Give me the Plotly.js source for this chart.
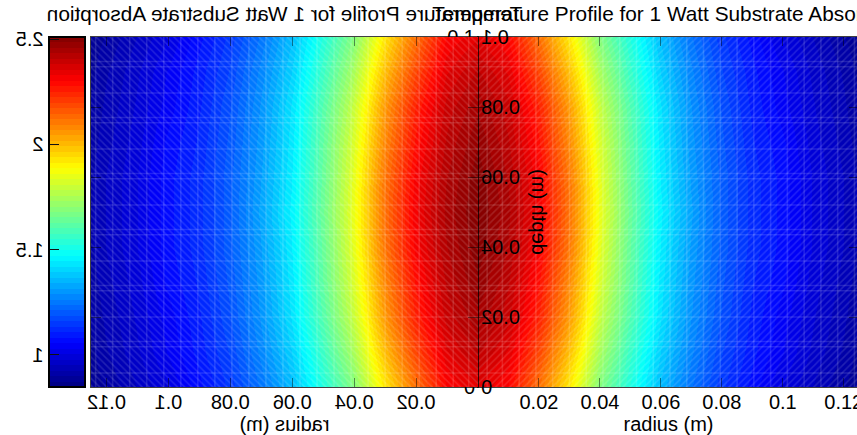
<!DOCTYPE html>
<html>
<head>
<meta charset="utf-8">
<script src="https://cdn.plot.ly/plotly-3.0.1.min.js"></script>
<style>
html,body{margin:0;padding:0;width:857px;height:435px;overflow:hidden;background:#fff}
#rightFig,#leftFig{position:absolute;left:0;top:0;height:435px}
#rightFig{width:900px}
#leftFig{width:857px;transform:scaleX(-1);transform-origin:center center}
</style>
</head>
<body>
<div id="rightFig"></div>
<div id="leftFig"></div>
<script>
const radius = [0,0.01,0.02,0.03,0.04,0.05,0.06,0.07,0.08,0.09,0.10,0.11,0.12,0.125];
const depth = [0,0.01,0.02,0.03,0.04,0.05,0.06,0.07,0.08,0.09,0.10];
const d00 = [2.35,2.30,2.12,1.92,1.68,1.52,1.36,1.24,1.14,1.07,1.00,0.95,0.90,0.88];
const d01 = [2.41,2.35,2.19,1.99,1.74,1.56,1.39,1.27,1.16,1.09,1.03,0.97,0.92,0.89];
const d02 = [2.45,2.39,2.25,2.05,1.79,1.60,1.42,1.29,1.18,1.10,1.04,0.98,0.93,0.90];
const d03 = [2.48,2.41,2.28,2.08,1.82,1.62,1.43,1.30,1.19,1.11,1.06,0.99,0.94,0.91];
const d04 = [2.50,2.43,2.31,2.11,1.84,1.63,1.44,1.31,1.20,1.12,1.07,1.00,0.95,0.92];
const d05 = [2.51,2.44,2.32,2.12,1.85,1.64,1.45,1.32,1.20,1.12,1.07,1.00,0.95,0.92];
const temperature = [d00,d01,d02,d03,d04,d05,d04,d03,d02,d01,d00];
const meshRadius = [0.003,0.008,0.0135,0.019,0.0245,0.03,0.0355,0.041,0.0465,0.052,0.0575,0.063,0.0685,0.074,0.0795,0.085,0.0905,0.096,0.1015,0.107,0.1125,0.118,0.1235];
const meshDepth = [0.004,0.0115,0.013,0.02,0.0275,0.029,0.036,0.0435,0.045,0.052,0.0595,0.061,0.068,0.0755,0.077,0.084,0.0915,0.093];
const xTicks = [0.02,0.04,0.06,0.08,0.1,0.12];
const xLabels = ['0.02','0.04','0.06','0.08','0.1','0.12'];
const yTicks = [0,0.02,0.04,0.06,0.08,0.1];
const yLabels = ['0','0.02','0.04','0.06','0.08','0.1'];
const barTicks = [1,1.5,2,2.5];
const barLabels = ['1','1.5','2','2.5'];
const titleText = 'Temperature Profile for 1 Watt Substrate Absorption';
const FONT = 'Liberation Sans, Arial, sans-serif';
const SIZE = 20;
const TITLE_SIZE = 20.8;
const cmin = 0.847, cmax = 2.51;

function jet(t){
  const c = v => Math.round(255*Math.max(0,Math.min(1,v)));
  return 'rgb('+c(1.5-Math.abs(4*t-3))+','+c(1.5-Math.abs(4*t-2))+','+c(1.5-Math.abs(4*t-1))+')';
}
const jet64 = [];
for(let i=0;i<64;i++){
  const col = jet((i+0.5)/64);
  jet64.push([i/64,col]); jet64.push([(i+1)/64,col]);
}
function meshTrace(){
  const xs=[],ys=[];
  meshRadius.forEach(r=>{xs.push(r,r,null);ys.push(0,0.1,null);});
  meshDepth.forEach(d=>{xs.push(0,0.125,null);ys.push(d,d,null);});
  return {type:'scatter',mode:'lines',x:xs,y:ys,hoverinfo:'skip',showlegend:false,
    line:{color:'rgba(255,255,255,0.13)',width:1.6}};
}
function hatchTrace(){
  return {type:'bar',x:[0.0625],y:[0.1],width:[0.125],hoverinfo:'skip',showlegend:false,
    marker:{color:'rgba(0,0,0,0)',line:{width:0},
      pattern:{shape:'/',size:5,solidity:0.3,fgcolor:'rgba(255,255,255,0.26)',bgcolor:'rgba(0,0,0,0)',fillmode:'overlay'}}};
}
function figure(withBar){
  const heat = {type:'heatmap',x:radius,y:depth,z:temperature,zmin:cmin,zmax:cmax,
    zsmooth:'best',colorscale:jet64,showscale:withBar,hoverinfo:'skip'};
  if(withBar){
    heat.colorbar = {xref:'container',x:772/857,xanchor:'left',yref:'paper',y:0,yanchor:'bottom',
      thickness:36,thicknessmode:'pixels',len:1,lenmode:'fraction',xpad:0,ypad:0,
      outlinecolor:'#000',outlinewidth:2,tickmode:'array',tickvals:barTicks,ticktext:barLabels,
      ticks:'inside',ticklen:10,tickcolor:'#111',tickwidth:1,
      tickfont:{family:FONT,size:SIZE,color:'#000'}};
  }
  return [heat,hatchTrace(),meshTrace()];
}
function axes(){
  const common = {showgrid:false,zeroline:false,showline:true,linecolor:'rgba(0,0,0,0.75)',linewidth:1,
    mirror:'allticks',ticks:'inside',tickcolor:'rgba(0,0,0,0.45)',tickwidth:1,
    tickmode:'array',tickfont:{family:FONT,size:SIZE,color:'#000'},automargin:false};
  return {
    xaxis:Object.assign({},common,{range:[0,0.125],tickvals:xTicks,ticktext:xLabels,ticklen:9,ticklabelstandoff:-3,
      title:{text:'radius (m)',font:{family:FONT,size:SIZE,color:'#000'},standoff:6}}),
    yaxis:Object.assign({},common,{range:[0,0.1],tickvals:yTicks,ticktext:yLabels,ticklen:10,ticklabelstandoff:-2,
      title:{text:'depth (m)',font:{family:FONT,size:SIZE,color:'#000'},standoff:6}})
  };
}
const cfg = {staticPlot:true,displayModeBar:false};
const rightLayout = Object.assign(axes(),{
  width:900,height:435,margin:{l:478,r:41,t:37,b:48},
  paper_bgcolor:'#fff',plot_bgcolor:'#fff',showlegend:false,barmode:'overlay',bargap:0,
  title:{text:titleText,font:{family:FONT,size:TITLE_SIZE,color:'#000'},xref:'container',x:670/900,xanchor:'center',yref:'container',y:1-14/435,yanchor:'middle'}
});
const leftLayout = Object.assign(axes(),{
  width:857,height:435,margin:{l:379,r:91,t:37,b:48},
  paper_bgcolor:'rgba(0,0,0,0)',plot_bgcolor:'rgba(0,0,0,0)',showlegend:false,barmode:'overlay',bargap:0,
  title:{text:titleText,font:{family:FONT,size:TITLE_SIZE,color:'#000'},xref:'container',x:572.5/857,xanchor:'center',yref:'container',y:1-14/435,yanchor:'middle'}
});
Plotly.newPlot('rightFig',figure(false),rightLayout,cfg);
Plotly.newPlot('leftFig',figure(true),leftLayout,cfg);
</script>
</body>
</html>
